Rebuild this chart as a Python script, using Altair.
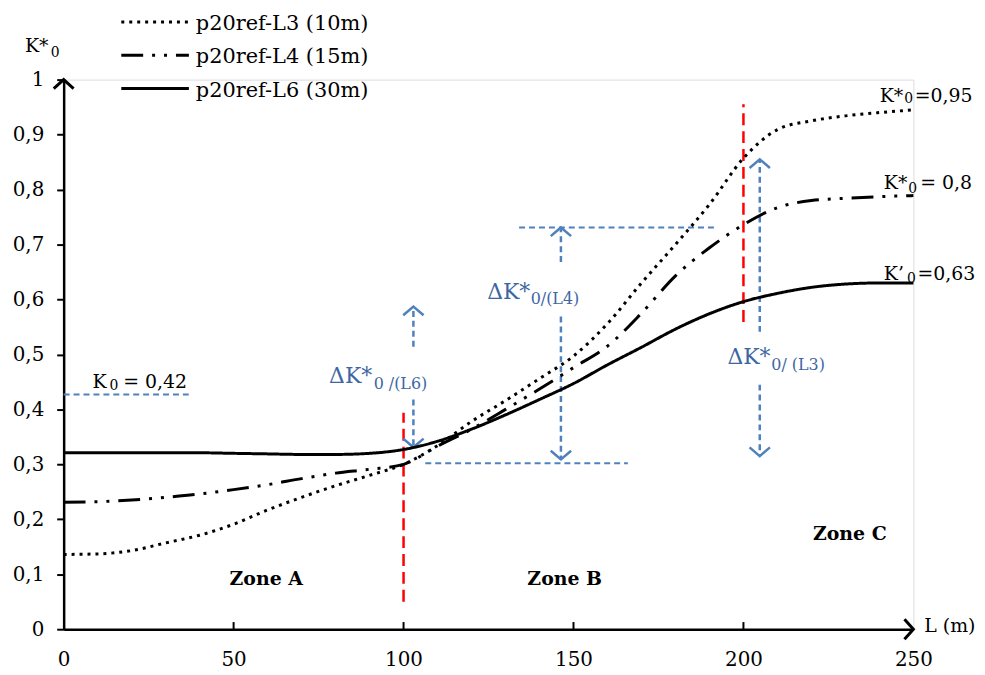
import altair as alt
import pandas as pd

# ---------------- data ----------------
L_m = [0, 10, 20, 30, 40, 50, 60, 70, 80, 90, 100, 110, 120, 130, 140, 150,
       160, 170, 180, 190, 200, 210, 220, 230, 240, 250]
K_L3 = [0.136, 0.137, 0.143, 0.157, 0.171, 0.191, 0.217, 0.240, 0.261, 0.280,
        0.300, 0.334, 0.378, 0.416, 0.456, 0.497, 0.556, 0.630, 0.700, 0.773,
        0.857, 0.909, 0.925, 0.934, 0.940, 0.945]
K_L4 = [0.231, 0.232, 0.235, 0.240, 0.246, 0.254, 0.263, 0.274, 0.284, 0.291,
        0.300, 0.333, 0.364, 0.400, 0.437, 0.476, 0.515, 0.575, 0.643, 0.694,
        0.736, 0.767, 0.780, 0.784, 0.787, 0.789]
K_L6 = [0.321, 0.321, 0.321, 0.321, 0.321, 0.320, 0.319, 0.318, 0.318, 0.320,
        0.327, 0.342, 0.364, 0.390, 0.418, 0.447, 0.481, 0.513, 0.546, 0.574,
        0.596, 0.611, 0.622, 0.628, 0.630, 0.630]
series = ["p20ref-L3 (10m)", "p20ref-L4 (15m)", "p20ref-L6 (30m)"]

y_ticks = [0, 0.1, 0.2, 0.3, 0.4, 0.5, 0.6, 0.7, 0.8, 0.9, 1]
x_ticks = [0, 50, 100, 150, 200, 250]

# annotations (data coordinates)
k0_value = 0.427
zone_x = [59.6, 147.4, 231.3]
zone_y = [0.092, 0.092, 0.174]
zone_txt = ["Zone A", "Zone B", "Zone C"]

hline_x = [0, 106.4, 134.0]
hline_x2 = [36.8, 166.0, 192.0]
hline_y = [k0_value, 0.302, 0.731]

red_x = [100, 200]
red_y = [0.05, 0.559]
red_y2 = [0.394, 0.955]

arr_x = [102.9, 146.3, 204.8]
up_from = [0.514, 0.668, 0.541]
up_tip = [0.587, 0.731, 0.855]
dn_from = [0.418, 0.569, 0.445]
dn_tip = [0.331, 0.309, 0.315]

d_main_x = [78.1, 124.6, 195.3]
d_main_y = [0.461, 0.613, 0.495]
d_sub_x = [91.2, 137.4, 208.2]
d_sub_y = [0.447, 0.600, 0.481]
d_sub_txt = ["0 /(L6)", "0/(L4)", "0/ (L3)"]

# K labels: head / subscript "0" / tail, baselines in data units
k_head = ["K*", "K*", "K’", "K", "K*"]
k_head_x = [240.1, 241.3, 241.3, 8.5, -11.4]
k_head_y = [0.960, 0.8005, 0.6347, 0.4394, 1.0506]
k_sub_x = [247.3, 248.5, 248.1, 13.5, -3.8]
k_sub_y = [0.9572, 0.7944, 0.6306, 0.4358, 1.0416]
k_tail = ["=0,95", "= 0,8", "=0,63", "= 0,42"]
k_tail_x = [250.4, 252.0, 251.2, 17.5]

xlab_txt = "L (m)"
xlab_x, xlab_y = 253.2, 0.005

# ---------------- tables ----------------
curves = pd.DataFrame({
    "x": L_m * 3,
    "y": K_L3 + K_L4 + K_L6,
    "s": [series[0]] * len(L_m) + [series[1]] * len(L_m) + [series[2]] * len(L_m),
})

BLUE_T = "#3D66A3"
BLUE_L = "#4F81BD"
FONT = "DejaVu Serif"

xs = alt.Scale(domain=[0, 250], nice=False, zero=False)
ys = alt.Scale(domain=[0, 1], nice=False, zero=False)
x_axis = alt.Axis(values=x_ticks, title=None, grid=False, tickSize=0, labelPadding=21,
                  labelFontSize=20, labelFont=FONT, labelColor="black",
                  domainColor="black", domainWidth=2.5, labelFlush=False)
y_axis = alt.Axis(values=y_ticks, title=None, grid=False, tickSize=7, tickWidth=2,
                  tickColor="black", labelPadding=13, labelFontSize=20, labelFont=FONT,
                  labelColor="black", domainColor="black", domainWidth=2.5,
                  format=".1~f", labelExpr="replace(datum.label, '.', ',')",
                  labelFlush=False)


def X(f="x"):
    return alt.X(f + ":Q", scale=xs, axis=x_axis)


def Y(f="y"):
    return alt.Y(f + ":Q", scale=ys, axis=y_axis)


dash_scale = alt.Scale(domain=series, range=[[3, 5], [22, 9, 3, 9, 3, 9], [1, 0]])

lines = alt.Chart(curves).mark_line(color="black", strokeWidth=3, interpolate="monotone").encode(
    x=X(), y=Y(), strokeDash=alt.StrokeDash("s:N", scale=dash_scale, legend=None), detail="s:N"
)

# inward x ticks
xt = pd.DataFrame({"x": x_ticks[1:-1], "y": [0] * 4, "y2": [0.013] * 4})
xtick = alt.Chart(xt).mark_rule(color="black", strokeWidth=2).encode(x=X(), y=Y(), y2="y2:Q")

# axis arrows
ya = alt.Chart(pd.DataFrame({"x": [0], "y": [1]})).mark_point(
    shape="M-1,0.9L0,0L1,0.9", size=400, filled=False, color="black", strokeWidth=3, opacity=1
).encode(x=X(), y=Y())
xa = alt.Chart(pd.DataFrame({"x": [250], "y": [0]})).mark_point(
    shape="M-0.9,-1L0,0L-0.9,1", size=400, filled=False, color="black", strokeWidth=3, opacity=1
).encode(x=X(), y=Y())

# blue horizontal dashed lines
hl = alt.Chart(pd.DataFrame({"x": hline_x, "x2": hline_x2, "y": hline_y})).mark_rule(
    color=BLUE_L, strokeWidth=2, strokeDash=[6, 4]
).encode(x=X(), x2="x2:Q", y=Y())

# red dashed vertical lines
rl = alt.Chart(pd.DataFrame({"x": red_x, "y": red_y, "y2": red_y2})).mark_rule(
    color="#FF0000", strokeWidth=2.5, strokeDash=[12, 6]
).encode(x=X(), y=Y(), y2="y2:Q")

# blue arrows
shafts = pd.DataFrame({"x": arr_x * 2, "y": up_from + dn_from, "y2": up_tip + dn_tip})
sh = alt.Chart(shafts).mark_rule(color=BLUE_L, strokeWidth=2.5, strokeDash=[6, 4]).encode(
    x=X(), y=Y(), y2="y2:Q")
uh = alt.Chart(pd.DataFrame({"x": arr_x, "y": up_tip})).mark_point(
    shape="M-1,0.85L0,0L1,0.85", size=420, filled=False, color=BLUE_L, strokeWidth=2.5, opacity=1
).encode(x=X(), y=Y())
dh = alt.Chart(pd.DataFrame({"x": arr_x, "y": dn_tip})).mark_point(
    shape="M-1,-0.85L0,0L1,-0.85", size=420, filled=False, color=BLUE_L, strokeWidth=2.5, opacity=1
).encode(x=X(), y=Y())

# delta labels
dm = alt.Chart(pd.DataFrame({"x": d_main_x, "y": d_main_y, "t": ["ΔK*"] * 3})).mark_text(
    align="left", baseline="middle", fontSize=22, font=FONT, color=BLUE_T
).encode(x=X(), y=Y(), text="t:N")
ds = alt.Chart(pd.DataFrame({"x": d_sub_x, "y": d_sub_y, "t": d_sub_txt})).mark_text(
    align="left", baseline="middle", fontSize=16, font=FONT, color=BLUE_T
).encode(x=X(), y=Y(), text="t:N")

# K labels (black)
kh = alt.Chart(pd.DataFrame({"x": k_head_x, "y": k_head_y, "t": k_head})).mark_text(
    align="left", baseline="alphabetic", fontSize=19, font=FONT, color="black"
).encode(x=X(), y=Y(), text="t:N")
ks = alt.Chart(pd.DataFrame({"x": k_sub_x, "y": k_sub_y, "t": ["0"] * len(k_sub_x)})).mark_text(
    align="left", baseline="alphabetic", fontSize=14, font=FONT, color="black"
).encode(x=X(), y=Y(), text="t:N")
kt = alt.Chart(pd.DataFrame({"x": k_tail_x, "y": k_head_y[:4], "t": k_tail})).mark_text(
    align="left", baseline="alphabetic", fontSize=19, font=FONT, color="black"
).encode(x=X(), y=Y(), text="t:N")
xl = alt.Chart(pd.DataFrame({"x": [xlab_x], "y": [xlab_y], "t": [xlab_txt]})).mark_text(
    align="left", baseline="middle", fontSize=19, font=FONT, color="black"
).encode(x=X(), y=Y(), text="t:N")

zt = alt.Chart(pd.DataFrame({"x": zone_x, "y": zone_y, "t": zone_txt})).mark_text(
    align="center", baseline="middle", fontSize=19, font=FONT, fontWeight="bold", color="black"
).encode(x=X(), y=Y(), text="t:N")

# legend (drawn at fixed pixel positions above the plot)
leg = pd.DataFrame({"s": series, "ly": [-58 + 33.5 * i for i in range(3)]})
leg["ty"] = leg["ly"] + 2
lg_lines = alt.Chart(leg).mark_rule(color="black", strokeWidth=3).encode(
    x=alt.value(58), x2=alt.value(126), y=alt.Y("ly:Q", scale=None),
    strokeDash=alt.StrokeDash("s:N", scale=dash_scale, legend=None))
lg_text = alt.Chart(leg).mark_text(align="left", baseline="middle", fontSize=21, font=FONT,
                                   color="black").encode(
    x=alt.value(133), y=alt.Y("ty:Q", scale=None), text="s:N")

chart = alt.layer(
    hl, rl, sh, uh, dh, lines, xtick, ya, xa, dm, ds, kh, ks, kt, xl, zt, lg_lines, lg_text
).properties(
    width=855, height=553,
    padding={"left": 56, "top": 70, "right": 64, "bottom": 40},
    autosize=alt.AutoSizeParams(type="none"),
).configure_view(stroke=None).configure(font=FONT)

chart.save("out.html", embed_options={"renderer": "svg", "actions": False})
